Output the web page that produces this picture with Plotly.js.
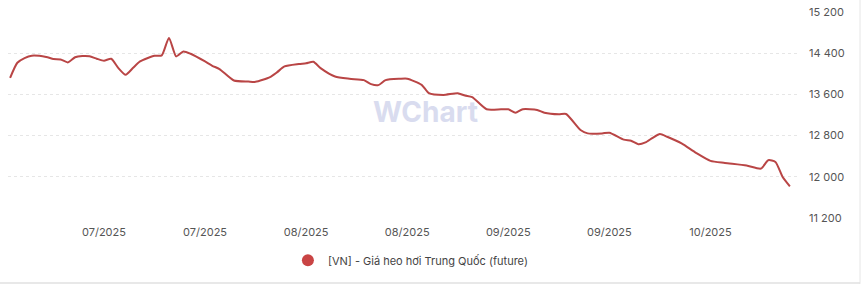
<!DOCTYPE html>
<html>
<head>
<meta charset="utf-8">
<script src="https://cdn.plot.ly/plotly-3.0.1.min.js"></script>
<style>html,body{margin:0;padding:0;background:#fff;}#chart{width:861px;height:285px;}</style>
</head>
<body>
<div id="chart"></div>
<script>
const seriesName = "[VN] - Giá heo hơi Trung Quốc (future)";
const dates = [
  "2025-07-01","2025-07-02","2025-07-03","2025-07-04","2025-07-06","2025-07-07","2025-07-08","2025-07-09",
  "2025-07-10","2025-07-11","2025-07-12","2025-07-13","2025-07-14","2025-07-15","2025-07-16","2025-07-17",
  "2025-07-18","2025-07-19","2025-07-21","2025-07-22","2025-07-23","2025-07-24","2025-07-25","2025-07-26",
  "2025-07-28","2025-07-29","2025-07-30","2025-08-01","2025-08-03","2025-08-04","2025-08-06","2025-08-07",
  "2025-08-08","2025-08-10","2025-08-11","2025-08-12","2025-08-13","2025-08-15","2025-08-17","2025-08-19",
  "2025-08-20","2025-08-21","2025-08-22","2025-08-24","2025-08-25","2025-08-27","2025-08-28","2025-08-30",
  "2025-09-01","2025-09-02","2025-09-03","2025-09-05","2025-09-07","2025-09-08","2025-09-09","2025-09-10",
  "2025-09-12","2025-09-13","2025-09-15","2025-09-16","2025-09-18","2025-09-19","2025-09-21","2025-09-22",
  "2025-09-24","2025-09-25","2025-09-26","2025-09-27","2025-09-28","2025-09-29","2025-09-30","2025-10-02",
  "2025-10-04","2025-10-06","2025-10-08","2025-10-11","2025-10-13","2025-10-14","2025-10-15","2025-10-16",
  "2025-10-17"
];
const prices = [
  13920,14215,14306,14351,14326,14287,14279,14221,
  14322,14345,14340,14293,14254,14293,14111,13981,
  14111,14240,14351,14357,14697,14338,14435,14390,
  14240,14156,14092,13869,13850,13844,13936,14033,
  14143,14189,14205,14234,14111,13947,13903,13877,
  13799,13780,13877,13903,13905,13786,13624,13590,
  13624,13577,13546,13311,13311,13311,13245,13311,
  13298,13245,13214,13220,12908,12843,12843,12856,
  12722,12699,12634,12668,12757,12830,12777,12648,
  12465,12309,12270,12219,12160,12322,12289,11996,
  11815
];
const xTickVals = ["2025-07-14","2025-07-28","2025-08-11","2025-08-25","2025-09-08","2025-09-22","2025-10-06"];
const yTickVals = [11200,12000,12800,13600,14400,15200];
const yTickText = ["11 200","12 000","12 800","13 600","14 400","15 200"];

const lineColor = "#b94545";
const traces = [
  {
    x: dates, y: prices, type: "scatter", mode: "lines",
    line: {color: lineColor, width: 2, shape: "spline", smoothing: 0.6},
    name: seriesName, showlegend: false, hoverinfo: "x+y"
  },
  {
    x: [null], y: [null], type: "scatter", mode: "markers",
    marker: {color: "#c94444", size: 9, symbol: "circle"},
    name: seriesName, showlegend: true
  }
];
const layout = {
  width: 861, height: 285,
  margin: {l: 8, r: 63, t: 12, b: 67},
  paper_bgcolor: "#ffffff", plot_bgcolor: "#ffffff",
  font: {family: "Inter, 'Noto Sans', sans-serif", size: 11, color: "#555"},
  xaxis: {
    type: "date",
    range: ["2025-06-30 17:00", "2025-10-18 03:00"],
    tickvals: xTickVals, tickformat: "%m/%Y",
    showgrid: false, zeroline: false, showline: false, ticks: "",
    tickfont: {size: 11, color: "#555"}, ticklabelstandoff: 6
  },
  yaxis: {
    side: "right", range: [11200, 15200],
    tickvals: yTickVals, ticktext: yTickText,
    showgrid: true, gridcolor: "#e6e6e6", griddash: "dot", gridwidth: 1,
    zeroline: false, showline: false, ticks: "",
    tickfont: {size: 11, color: "#555"}, ticklabelstandoff: 10
  },
  showlegend: true,
  legend: {
    orientation: "h", x: 0.51, xanchor: "center", y: -0.205, yanchor: "middle",
    font: {size: 11, color: "#444"}, itemsizing: "constant", itemwidth: 30
  },
  annotations: [{
    text: "<b>WChart</b>", xref: "paper", yref: "paper", x: 0.528, y: 0.515,
    xanchor: "center", yanchor: "middle", showarrow: false,
    font: {size: 28, color: "#d9dcef", family: "Inter, sans-serif"}
  }],
  shapes: [
    {type: "line", xref: "paper", yref: "paper", x0: 1.0785, x1: 1.0785, y0: -0.32, y1: 1.06, line: {color: "#e6e6e6", width: 1}},
    {type: "line", xref: "paper", yref: "paper", x0: -0.02, x1: 1.0785, y0: -0.3155, y1: -0.3155, line: {color: "#e0e0e0", width: 1.5}}
  ]
};
Plotly.newPlot("chart", traces, layout, {displayModeBar: false, staticPlot: true});
</script>
</body>
</html>
